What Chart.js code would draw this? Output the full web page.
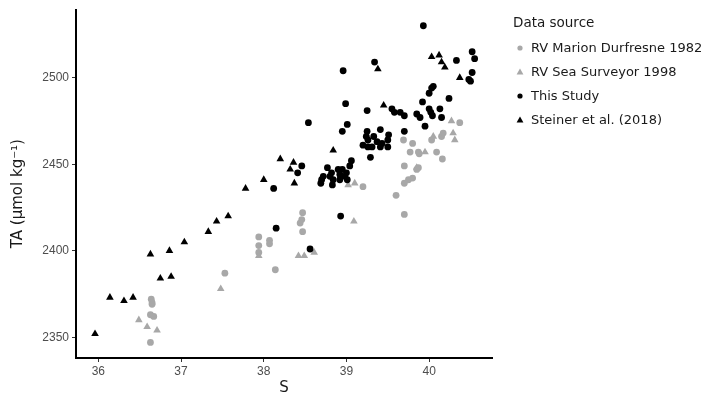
<!DOCTYPE html>
<html><head><meta charset="utf-8">
<script src="https://cdn.jsdelivr.net/npm/chart.js@4/dist/chart.umd.min.js"></script>
<style>
html,body{margin:0;padding:0;background:#fff;}
#wrap{position:relative;width:723px;height:397px;}
#c{position:absolute;left:0;top:0;width:723px;height:397px;}
#legend{position:absolute;left:513px;top:12px;font-family:"DejaVu Sans",sans-serif;color:#1a1a1a;}
#legend .ttl{font-size:13.5px;height:20px;line-height:20px;margin-bottom:4px;}
#legend .it{font-size:13px;height:24px;line-height:24px;display:flex;align-items:center;white-space:nowrap;}
#legend svg{width:14px;height:14px;margin-right:4px;flex:none;}
</style></head>
<body><div id="wrap"><canvas id="c"></canvas><div id="legend"></div></div>
<script>
const legendTitle = "Data source";
const seriesNames = ["RV Marion Durfresne 1982", "RV Sea Surveyor 1998", "This Study", "Steiner et al. (2018)"];
const xTicks = [36, 37, 38, 39, 40];
const yTicks = [2350, 2400, 2450, 2500];

const marionS  = [36.64,36.65,36.65,36.63,36.67,36.63,37.53,37.94,37.94,37.94,38.07,38.07,38.14,38.47,38.46,38.44,38.47,39.70,39.20,39.60,39.69,39.80,39.77,39.87,39.88,40.09,40.16,39.70,39.87,39.85,39.80,39.75,39.70,40.03,40.15,40.17,40.37];
const marionTA = [2372,2370,2369,2363,2362,2347,2387,2408,2403,2399,2406,2404,2389,2422,2418,2416,2411,2421,2437,2432,2464,2462,2457,2457,2456,2457,2453,2449,2448,2447,2442,2441,2439,2464,2466,2468,2474];

const seaS  = [36.49,36.59,36.71,37.48,37.94,38.42,38.49,38.61,39.09,39.02,39.10,40.05,40.29,40.31,40.27,39.95,39.85];
const seaTA = [2360,2356,2354,2378,2397,2397,2397,2399,2417,2438,2439,2466,2468,2464,2475,2457,2448];

const studyS  = [39.93,39.34,38.96,40.33,40.52,40.55,40.52,40.48,40.50,40.05,40.03,40.00,40.24,39.92,38.99,39.25,39.55,39.58,39.65,39.70,39.85,39.89,40.00,40.02,40.04,40.13,40.15,39.95,38.54,39.01,38.95,39.25,39.24,39.26,39.33,39.37,39.41,39.51,39.50,39.50,39.43,39.41,39.20,39.26,39.31,39.29,39.70,38.46,38.41,38.12,38.77,38.82,38.72,38.70,38.69,38.80,38.84,38.83,38.90,38.92,38.95,39.00,39.01,39.06,39.04,38.98,38.92,38.15,38.56,38.93];
const studyTA = [2530,2509,2504,2510,2515,2511,2503,2499,2498,2495,2494,2491,2488,2486,2485,2481,2482,2480,2480,2478,2479,2477,2482,2480,2478,2482,2477,2472,2474,2473,2469,2469,2466,2464,2466,2463,2470,2467,2464,2460,2462,2460,2461,2460,2460,2454,2469,2449,2445,2436,2448,2445,2443,2441,2439,2443,2441,2438,2447,2444,2447,2445,2441,2452,2449,2443,2441,2413,2401,2420];

const steinerS  = [35.96,36.14,36.31,36.42,36.63,36.75,36.86,36.88,37.04,37.33,37.43,37.57,37.78,38.00,38.20,38.36,38.32,38.37,38.84,39.38,39.45,40.03,40.12,40.15,40.19,40.37];
const steinerTA = [2352,2373,2371,2373,2398,2384,2400,2385,2405,2411,2417,2420,2436,2441,2453,2451,2447,2439,2458,2505,2484,2512,2513,2509,2506,2500];

const GREY = '#a8a8a8', BLACK = '#000000';
function pts(xs, ys){ return xs.map((x,i)=>({x:x, y:ys[i]})); }
const styles = [
  {color:GREY, shape:'circle', r:3.4, order:4},
  {color:GREY, shape:'triangle', r:4.4, order:3},
  {color:BLACK, shape:'circle', r:3.4, order:2},
  {color:BLACK, shape:'triangle', r:4.4, order:1}
];
const dataXY = [pts(marionS, marionTA), pts(seaS, seaTA), pts(studyS, studyTA), pts(steinerS, steinerTA)];
const datasets = seriesNames.map((n,i)=>({
  label:n, data:dataXY[i], order:styles[i].order,
  pointStyle:styles[i].shape, pointRadius:styles[i].r, pointHoverRadius:styles[i].r,
  backgroundColor:styles[i].color, borderColor:styles[i].color, borderWidth:0, showLine:false
}));

const tickFont = {family:'"Liberation Sans", Arial, sans-serif', size:12};
const titleFont = {family:'"DejaVu Sans", sans-serif', size:15};

new Chart(document.getElementById('c'), {
  type:'scatter',
  data:{datasets},
  options:{
    responsive:true, maintainAspectRatio:false, animation:false,
    layout:{padding:{left:9, top:10, right:231, bottom:0}},
    plugins:{legend:{display:false}, tooltip:{enabled:false}},
    scales:{
      x:{
        type:'linear', min:35.73, max:40.76,
        afterBuildTicks:(s)=>{ s.ticks = xTicks.map(v=>({value:v})); },
        afterFit:(s)=>{ s.height = 39; },
        ticks:{font:tickFont, color:'#4d4d4d', padding:2, callback:(v)=>String(v)},
        grid:{display:true, drawOnChartArea:false, drawTicks:true, tickLength:4, tickColor:'#333', lineWidth:1},
        border:{display:true, color:'#000', width:2},
        title:{display:true, text:'S', font:titleFont, color:'#1a1a1a', padding:0}
      },
      y:{
        type:'linear', min:2338, max:2539,
        afterBuildTicks:(s)=>{ s.ticks = yTicks.map(v=>({value:v})); },
        afterFit:(s)=>{ s.width = 67; },
        ticks:{font:tickFont, color:'#4d4d4d', padding:3, callback:(v)=>String(v)},
        grid:{display:true, drawOnChartArea:false, drawTicks:true, tickLength:4, tickColor:'#333', lineWidth:1},
        border:{display:true, color:'#000', width:2},
        title:{display:true, text:'TA (µmol kg⁻¹)\u00a0\u00a0\u00a0\u00a0', font:titleFont, color:'#1a1a1a', padding:0}
      }
    }
  }
});

// HTML legend built from the series
const lg = document.getElementById('legend');
const t = document.createElement('div'); t.className='ttl'; t.textContent = legendTitle; lg.appendChild(t);
seriesNames.forEach((n,i)=>{
  const d = document.createElement('div'); d.className='it';
  const st = styles[i];
  const shape = st.shape==='circle'
    ? `<circle cx="7" cy="7" r="2.6" fill="${st.color}"/>`
    : `<polygon points="7,3.6 10.4,9.6 3.6,9.6" fill="${st.color}"/>`;
  d.innerHTML = `<svg viewBox="0 0 14 14">${shape}</svg><span></span>`;
  d.querySelector('span').textContent = n;
  lg.appendChild(d);
});
</script>
</body></html>
